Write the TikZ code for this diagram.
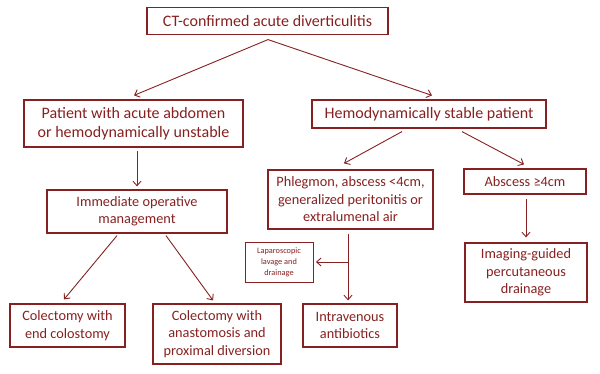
\documentclass[tikz,border=0pt]{standalone}
\usepackage{fontspec}
\setmainfont{Carlito}
\usetikzlibrary{arrows.meta}
\definecolor{dred}{RGB}{135,32,32}
\begin{document}
\begin{tikzpicture}[x=1pt,y=-1pt,
  box/.style={draw=dred,line width=1.2pt,text=dred,align=center,inner sep=0pt,
    font=\fontsize{14.3}{17.5}\selectfont},
  bigbox/.style={box,font=\fontsize{16}{18.5}\selectfont},
  smallbox/.style={box,line width=0.9pt,font=\fontsize{8.3}{11}\selectfont},
  arr/.style={draw=dred,line width=0.9pt,-{Straight Barb[length=4.5pt,width=8pt,line width=0.9pt]}}]
\useasboundingbox (0,0) rectangle (600,374);
\node[bigbox,minimum width=241pt,minimum height=27pt] (top) at (267.5,21) {CT-confirmed acute diverticulitis};
\node[bigbox,minimum width=219pt,minimum height=47pt] (pat) at (133.5,123.5) {Patient with acute abdomen\\or hemodynamically unstable};
\node[bigbox,minimum width=234pt,minimum height=28pt] (hem) at (429,114) {Hemodynamically stable patient};
\node[box,minimum width=180pt,minimum height=43pt] (imm) at (137,211.5) {Immediate operative\\management};
\node[box,minimum width=165pt,minimum height=59pt] (phl) at (350.5,199.5) {Phlegmon, abscess <4cm,\\generalized peritonitis or\\extralumenal air};
\node[box,minimum width=122pt,minimum height=25pt] (abs) at (525,181.5) {Abscess ≥4cm};
\node[box,minimum width=122pt,minimum height=59pt] (img) at (526,272.5) {Imaging-guided\\percutaneous\\drainage};
\node[smallbox,minimum width=68pt,minimum height=40pt] (lap) at (279,262) {Laparoscopic\\lavage and\\drainage};
\node[box,minimum width=94pt,minimum height=43pt] (iv) at (350,325.5) {Intravenous\\antibiotics};
\node[box,minimum width=115pt,minimum height=43pt] (col1) at (67.5,325.5) {Colectomy with\\end colostomy};
\node[box,minimum width=128pt,minimum height=60pt] (col2) at (217,334) {Colectomy with\\anastomosis and\\proximal diversion};
% connectors
\draw[arr] ([xshift=0.5pt,yshift=-4.5pt]top.south) -- ([xshift=0.5pt,yshift=4pt]pat.north);
\draw[arr] ([xshift=0.5pt,yshift=-4.5pt]top.south) -- ([xshift=3pt,yshift=4pt]hem.north);
\draw[arr] ([yshift=-3pt]imm.north |- pat.south) -- ([yshift=3pt]imm.north);
\draw[arr] ([xshift=-27pt,yshift=-3pt]hem.south) -- ([xshift=-6.5pt,yshift=6pt]phl.north);
\draw[arr] ([xshift=33pt,yshift=-3pt]hem.south) -- ([xshift=-1pt,yshift=4pt]abs.north);
\draw[arr] ([xshift=1pt,yshift=-4pt]abs.south) -- ([yshift=5pt]img.north);
\coordinate (vx) at ([xshift=-2.5pt,yshift=-4pt]phl.south);
\draw[arr] (vx) -- ([yshift=3pt]iv.north -| vx);
\draw[arr] (lap.east -| vx) -- ([xshift=2.5pt]lap.east);
\draw[arr] ([xshift=-20pt,yshift=-2pt]imm.south) -- ([xshift=-3.5pt,yshift=4pt]col1.north);
\draw[arr] ([xshift=29pt,yshift=-2pt]imm.south) -- ([xshift=-4pt,yshift=3pt]col2.north);
\end{tikzpicture}
\end{document}
